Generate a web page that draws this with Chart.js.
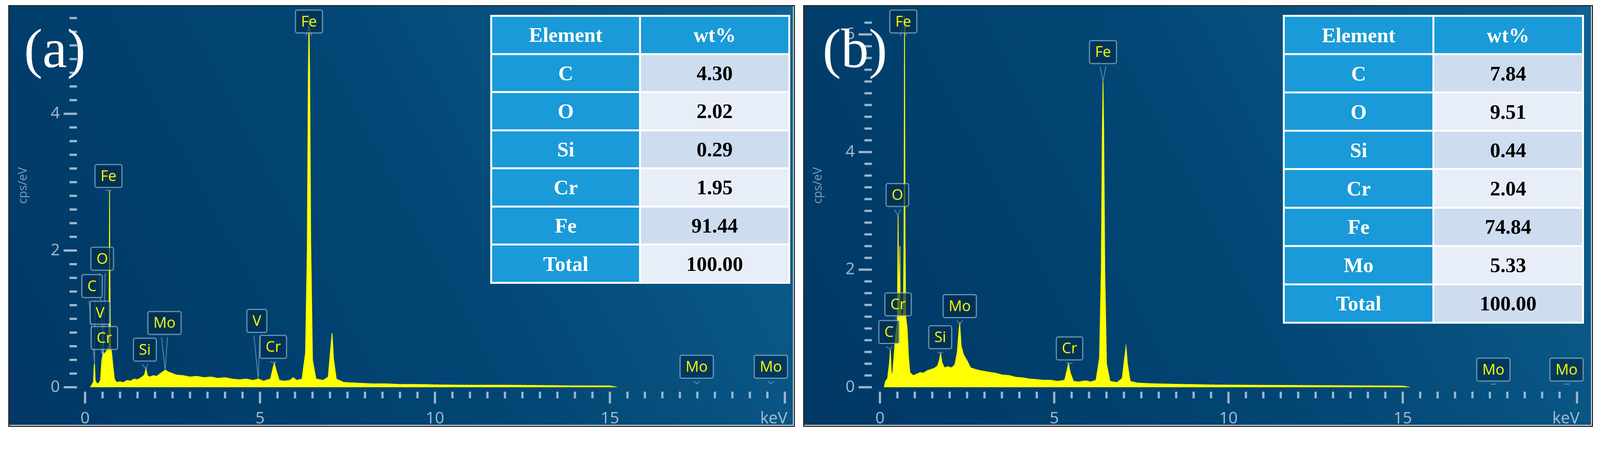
<!DOCTYPE html>
<html><head><meta charset="utf-8">
<script src="https://cdn.jsdelivr.net/npm/chart.js@4/dist/chart.umd.min.js"></script>
<style>
html,body{margin:0;padding:0;background:#fff;overflow:hidden}
#wrap{position:absolute;left:0;top:0;width:4334px;height:1187px;background:#fff}
.panel{position:absolute;top:14px;width:2131px;height:1141px;box-sizing:border-box;border:4px solid #2a2a2a;overflow:hidden}
.panel canvas{position:absolute;left:0;top:0}
table{position:absolute;border-collapse:separate;border-spacing:6px;background:#fff;font-family:"Liberation Serif","DejaVu Serif",serif;font-weight:bold;font-size:56px}
td{text-align:center;padding:0}
td.h{background:#1a9ad8;color:#fff}
td.v1{background:#cddcef;color:#000}
td.v2{background:#e8eef8;color:#000}
.tag{position:absolute;left:40px;top:40px;color:#fff;font-family:"Liberation Serif",serif;font-size:150px;line-height:1}
</style></head><body>
<div id="wrap">
<div class="panel" id="pa" style="left:22px"><canvas id="ca" width="2123" height="1133"></canvas><div class="tag">(a)</div>
<table id="ta" style="left:1303px;top:23px;width:812px;height:728px"></table></div>
<div class="panel" id="pb" style="left:2175px;width:2140px"><canvas id="cb" width="2132" height="1133"></canvas><div class="tag" style="left:50px">(b)</div>
<table id="tb" style="left:1297px;top:23px;width:815px;height:836px"></table></div>
</div>
<script>
// ---- data ----
const elementsA=["C","O","Si","Cr","Fe","Total"];
const wtA=["4.30","2.02","0.29","1.95","91.44","100.00"];
const elementsB=["C","O","Si","Cr","Fe","Mo","Total"];
const wtB=["7.84","9.51","0.44","2.04","74.84","5.33","100.00"];

const energyA=[0.15,0.2,0.24,0.26,0.27,0.29,0.33,0.38,0.44,0.48,0.5,0.52,0.55,0.57,0.6,0.64,0.68,0.69,0.70,0.71,0.73,0.76,0.8,0.84,0.9,1.0,1.1,1.2,1.3,1.4,1.5,1.6,1.7,1.74,1.78,1.85,1.95,2.05,2.15,2.29,2.4,2.5,2.6,2.8,3.0,3.2,3.4,3.6,3.8,4.0,4.2,4.4,4.6,4.8,4.95,5.1,5.3,5.38,5.41,5.46,5.55,5.7,5.85,5.95,6.05,6.2,6.3,6.35,6.38,6.40,6.42,6.45,6.5,6.6,6.8,6.95,7.0,7.06,7.1,7.18,7.4,7.8,8.2,8.6,9,9.5,10,11,12,13,14,15,15.2];
const countsA=[0,0.04,0.08,0.3,0.35,0.1,0.06,0.05,0.1,0.4,0.45,0.5,0.48,0.5,0.52,0.55,0.6,1.5,2.88,1.6,0.6,0.5,0.3,0.12,0.07,0.08,0.07,0.1,0.09,0.12,0.11,0.14,0.18,0.27,0.17,0.15,0.17,0.16,0.2,0.25,0.22,0.2,0.18,0.17,0.15,0.16,0.14,0.15,0.13,0.14,0.12,0.11,0.12,0.1,0.12,0.09,0.12,0.3,0.35,0.25,0.1,0.09,0.1,0.14,0.1,0.12,0.5,2.0,4.5,5.45,4.6,2.1,0.4,0.12,0.1,0.15,0.45,0.79,0.42,0.12,0.07,0.06,0.05,0.05,0.04,0.04,0.035,0.03,0.03,0.025,0.02,0.02,0];
const energyB=[0.12,0.16,0.22,0.27,0.3,0.32,0.35,0.4,0.45,0.5,0.51,0.52,0.53,0.55,0.57,0.58,0.62,0.67,0.69,0.705,0.72,0.74,0.78,0.82,0.86,0.95,1.05,1.15,1.25,1.35,1.45,1.55,1.65,1.7,1.74,1.78,1.85,1.95,2.05,2.15,2.22,2.27,2.29,2.33,2.4,2.5,2.6,2.75,2.9,3.1,3.3,3.5,3.7,3.9,4.1,4.3,4.5,4.7,4.9,5.1,5.3,5.37,5.41,5.46,5.55,5.7,5.9,6.05,6.2,6.3,6.35,6.38,6.40,6.42,6.45,6.5,6.6,6.8,6.95,7.0,7.06,7.1,7.18,7.4,7.8,8.5,9.5,10.5,12,13.5,15,15.2];
const countsB=[0,0.1,0.15,0.4,0.64,0.3,0.15,0.5,0.9,1.1,2.0,2.92,2.2,1.3,2.4,1.4,1.2,1.25,2.5,6.3,2.6,1.2,1.0,0.5,0.25,0.2,0.22,0.25,0.24,0.28,0.3,0.32,0.36,0.45,0.57,0.42,0.33,0.35,0.33,0.38,0.6,1.0,1.07,0.7,0.55,0.45,0.33,0.3,0.28,0.26,0.24,0.21,0.2,0.17,0.16,0.14,0.13,0.12,0.12,0.1,0.12,0.3,0.4,0.25,0.1,0.09,0.11,0.09,0.12,0.5,2.0,4.3,5.2,4.4,2.0,0.4,0.1,0.08,0.15,0.4,0.69,0.4,0.1,0.07,0.06,0.05,0.04,0.035,0.03,0.025,0.02,0];

const xMajorLabels=["0","5","10","15","keV"];
const yMajorLabels=["0","2","4","6"];
// peak labels: text, box centre keV, box centre cps, target keV, target cps
const peaksA=[["Fe",6.40,5.35,6.40,5.3],["Fe",0.67,3.09,0.70,2.88],["O",0.49,1.88,0.52,0.5],["C",0.20,1.48,0.27,0.35],["V",0.43,1.09,0.51,0.45],["Cr",0.55,0.72,0.57,0.5],["Si",1.71,0.55,1.74,0.27],["Mo",2.27,0.94,2.29,0.25],["V",4.91,0.97,4.95,0.12],["Cr",5.38,0.59,5.41,0.35],["Mo",17.48,0.30,17.48,0.05],["Mo",19.6,0.30,19.6,0.05]];
const peaksB=[["Fe",0.67,6.22,0.705,6.3],["Fe",6.40,5.70,6.40,5.2],["O",0.50,3.27,0.52,2.92],["Cr",0.52,1.41,0.57,1.2],["C",0.26,0.94,0.30,0.64],["Si",1.73,0.85,1.74,0.57],["Mo",2.29,1.38,2.29,1.07],["Cr",5.44,0.66,5.41,0.4],["Mo",17.6,0.30,17.6,0.05],["Mo",19.7,0.30,19.7,0.05]];

function fit(){const s=Math.min(window.innerWidth/4334,window.innerHeight/1187);document.getElementById('wrap').style.zoom=s;}
fit();window.addEventListener('resize',fit);

function buildTable(id,els,vals){
  const t=document.getElementById(id);
  let h='<tr><td class="h">Element</td><td class="h">wt%</td></tr>';
  els.forEach((e,i)=>{h+='<tr><td class="h" style="width:50%">'+e+'</td><td class="'+(i%2?'v2':'v1')+'">'+vals[i]+'</td></tr>';});
  t.innerHTML=h;
}
buildTable('ta',elementsA,wtA);buildTable('tb',elementsB,wtB);

const deco={
  id:'deco',
  beforeDraw(c){
    const ctx=c.ctx,w=c.width,h=c.height;
    const g=ctx.createLinearGradient(0,h,w,0);
    g.addColorStop(0,'#013866');g.addColorStop(0.5,'#024674');g.addColorStop(1,'#0f6291');
    ctx.save();ctx.fillStyle=g;ctx.fillRect(0,0,w,h);ctx.restore();
  },
  afterDraw(c,args,o){
    const ctx=c.ctx,xs=c.scales.x,ys=c.scales.y,ca=c.chartArea;
    const y0=ys.getPixelForValue(0);
    ctx.save();
    ctx.strokeStyle='#9db8cc';ctx.fillStyle='#a9bfd0';ctx.lineWidth=6;
    for(let k=0;k<=40;k++){const v=k*0.5,px=xs.getPixelForValue(v),maj=(k%10===0);
      ctx.beginPath();ctx.moveTo(px,y0+12);ctx.lineTo(px,y0+(maj?44:30));ctx.stroke();}
    ctx.font='44px "Open Sans"';ctx.textAlign='center';ctx.textBaseline='middle';
    xMajorLabels.forEach((l,i)=>{let px=xs.getPixelForValue(i*5);if(i===4)px-=30;ctx.fillText(l,px,y0+85);});
    const xr=ca.left-22;
    for(let k=0;k*0.2<=o.ymax+1e-6;k++){const v=k*0.2,py=ys.getPixelForValue(v),maj=(k%10===0);
      ctx.beginPath();ctx.moveTo(xr,py);ctx.lineTo(xr-(maj?36:20),py);ctx.stroke();}
    ctx.textAlign='right';
    yMajorLabels.forEach((l,i)=>{if(i*2<=o.ymax)ctx.fillText(l,xr-46,ys.getPixelForValue(i*2));});
    ctx.save();ctx.translate(38,485);ctx.rotate(-Math.PI/2);ctx.textAlign='center';ctx.font='32px "Open Sans"';ctx.fillStyle='#7fa3c0';ctx.fillText('cps/eV',0,0);ctx.restore();
    ctx.font='40px "Open Sans"';ctx.textAlign='center';ctx.textBaseline='middle';
    o.peaks.forEach(p=>{
      const bx=xs.getPixelForValue(p[1]),by=ys.getPixelForValue(p[2]);
      const tx=xs.getPixelForValue(p[3]),ty=ys.getPixelForValue(p[4]);
      const tw=ctx.measureText(p[0]).width+30,bh=62;
      ctx.strokeStyle='rgba(190,215,230,0.55)';ctx.lineWidth=2;
      ctx.beginPath();ctx.moveTo(bx-8,by+bh/2+8);ctx.lineTo(tx,ty);ctx.lineTo(bx+8,by+bh/2+8);ctx.stroke();
      ctx.fillStyle='rgba(0,45,80,0.7)';ctx.strokeStyle='rgba(160,195,215,0.7)';ctx.lineWidth=3;
      ctx.beginPath();ctx.roundRect(bx-tw/2,by-bh/2,tw,bh,5);ctx.fill();ctx.stroke();
      ctx.fillStyle='#ffff00';ctx.fillText(p[0],bx,by+2);
    });
    ctx.restore();
  }
};

function makeChart(id,en,ct,ymax,peaks,padR){
  new Chart(document.getElementById(id),{
    type:'line',
    data:{datasets:[{data:en.map((e,i)=>({x:e,y:ct[i]})),borderColor:'#ffff00',backgroundColor:'#ffff00',borderWidth:2,pointRadius:0,fill:'origin',tension:0}]},
    options:{responsive:false,animation:false,devicePixelRatio:1,
      layout:{padding:{left:205,right:padR,top:19,bottom:102}},
      plugins:{legend:{display:false},tooltip:{enabled:false},deco:{ymax:ymax,peaks:peaks}},
      scales:{x:{type:'linear',min:0,max:20,display:false},y:{min:0,max:ymax,display:false}}},
    plugins:[deco]
  });
}
makeChart('ca',energyA,countsA,5.47,peaksA,22);
makeChart('cb',energyB,countsB,6.36,peaksB,38);
</script></body></html>
